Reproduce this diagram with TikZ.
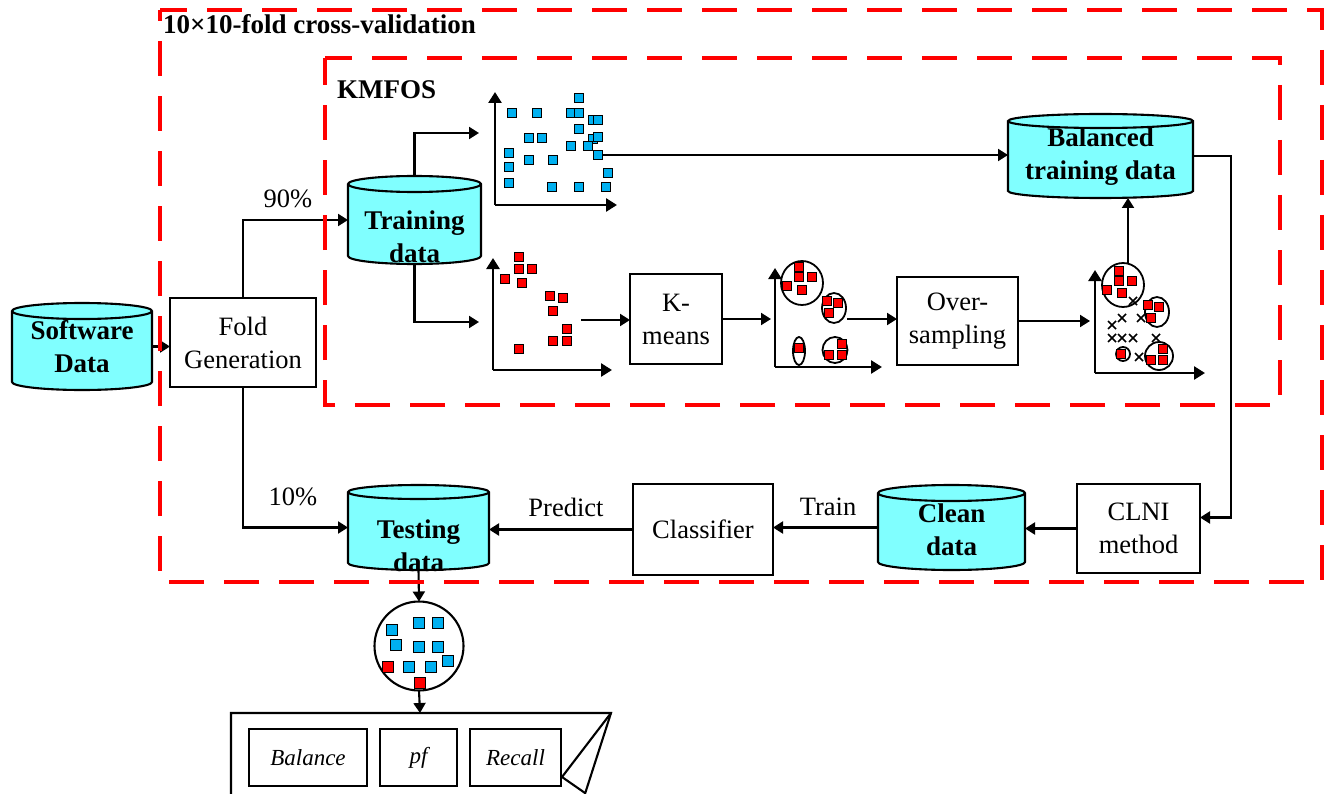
\documentclass[tikz,border=0pt]{standalone}
\usepackage{fontspec}
\setmainfont{Liberation Serif}
\usetikzlibrary{arrows.meta,calc}
\definecolor{cylcyan}{RGB}{128,255,255}
\definecolor{ptblue}{RGB}{0,176,240}
\definecolor{framered}{RGB}{255,0,0}
% #1 name, #2 cx, #3 top, #4 bottom, #5 half width, #6 ry
\newcommand{\dbcyl}[6]{%
  \path[fill=cylcyan, draw, line width=2.1pt] (#2-#5,#3+#6) -- (#2-#5,#4-#6)
     arc[start angle=180,end angle=360,x radius=#5pt,y radius=#6pt] -- (#2+#5,#3+#6)
     arc[start angle=0,end angle=180,x radius=#5pt,y radius=#6pt] -- cycle;
  \draw[line width=2.1pt] (#2-#5,#3+#6) arc[start angle=180,end angle=360,x radius=#5pt,y radius=#6pt];
  \node[inner sep=0pt,outer sep=0pt,minimum width={2*#5pt},minimum height={(#4-#3)*1pt}] (#1) at (#2,{(#3+#4)/2}) {};%
}
\begin{document}
\begin{tikzpicture}[x=1pt,y=-1pt,
  lbl/.style={font=\fontsize{26.5}{33}\selectfont, align=center, inner sep=0pt},
  blbl/.style={font=\bfseries\fontsize{27}{33}\selectfont, align=center, inner sep=0pt},
  box/.style={draw, line width=2.1pt, inner sep=0pt, outer sep=0pt, align=center, fill=white,
              font=\fontsize{26.5}{33}\selectfont},
  ibox/.style={draw, line width=2.1pt, inner sep=0pt, outer sep=0pt, align=center,
              font=\itshape\fontsize{23}{28}\selectfont, minimum height=57pt},
  arr/.style={line width=2.1pt, -{Triangle[length=10pt,width=12pt]}},
  frame/.style={draw=framered, line width=4pt, dash pattern=on 35pt off 20pt},
  axis/.style={line width=2.6pt, -{Triangle[length=11pt,width=13pt]}},
  bsq/.style={fill=ptblue, draw=black, line width=1.5pt},
  rsq/.style={fill=red, draw=black, line width=1.5pt},
  ring/.style={draw, line width=1.8pt},
  xm/.style={line width=1.6pt}
]
\useasboundingbox (0,0) rectangle (1329,794);
\clip (0,0) rectangle (1329,794);

% ---------- cylinders ----------
\dbcyl{sw}{82}{303}{390}{70}{8}
\dbcyl{train}{414.5}{176}{264}{66.5}{8}
\dbcyl{bal}{1100.5}{114}{198}{92.5}{7}
\dbcyl{test}{418.5}{485}{570}{70.5}{7}
\dbcyl{clean}{951.5}{485}{570}{73.5}{8}

\node[blbl] (swt) at (82,347) {Software\\Data};
\node[blbl] (traint) at (414.5,237) {Training\\data};
\node[blbl] (balt) at (1100.5,157) {Balanced\\training data};
\node[blbl] (testt) at (418.5,546) {Testing\\data};
\node[blbl] (cleant) at (951.5,529.5) {Clean\\data};

% ---------- boxes ----------
\node[box, minimum width=146pt, minimum height=89pt] (fold) at (243,342.5) {Fold\\Generation};
\node[box, minimum width=92pt, minimum height=90pt] (kmeans) at (676,319) {K-\\means};
\node[box, minimum width=121pt, minimum height=88pt] (over) at (957.5,321) {Over-\\sampling};
\node[box, minimum width=123pt, minimum height=89pt] (clni) at (1138.5,528.5) {CLNI\\method};
\node[box, minimum width=140pt, minimum height=91pt] (classif) at (703,529.5) {Classifier};

% ---------- plot 1 (blue) ----------
\draw[axis] (495,205) -- (495,92);
\draw[axis] (495,205) -- (617,205);
\foreach \x/\y in {512/113,537/113,571/113,579/113,579/98,593/120,598/120,579/129,529/138,542/138,
                   593/139,598/137,571/146,588/146,598/155,509/153,529/160,553/160,509/167,608/173,
                   509/183,552/187,579/187,606/187}
  \draw[bsq] (\x-4.5,\y-4.5) rectangle (\x+4.5,\y+4.5);
\coordinate (b1) at (603,155);
\coordinate (p1in) at (479,133);

% ---------- plot 2 (red) ----------
\draw[axis] (493,370) -- (493,258);
\draw[axis] (493,370) -- (612,370);
\foreach \x/\y in {519/257,519/269,532/269,505/279,522/283,550/296,563/298,553/311,567/329,553/341,567/341,519/349}
  \draw[rsq] (\x-4.5,\y-4.5) rectangle (\x+4.5,\y+4.5);
\coordinate (p2in) at (479,322);
\coordinate (p2out) at (581,320);

% ---------- plot 3 (clusters) ----------
\draw[axis] (775,367) -- (775,268);
\draw[axis] (775,367) -- (882,367);
\draw[ring] (802,283) ellipse [x radius=21pt, y radius=22pt];
\draw[ring] (834,308) ellipse [x radius=12pt, y radius=15pt];
\draw[ring] (799,351) ellipse [x radius=6pt, y radius=14pt];
\draw[ring] (835,350) ellipse [x radius=12.5pt, y radius=13pt];
\foreach \x/\y in {799/267,799/277,812/277,787/286,802/290,827/301,838/303,829/313,799/348,842/344,829/355,842/355}
  \draw[rsq] (\x-4.5,\y-4.5) rectangle (\x+4.5,\y+4.5);
\coordinate (p3in) at (771,319);
\coordinate (p3out) at (847,319);

% ---------- plot 4 (oversampled) ----------
\draw[axis] (1095,373) -- (1095,270);
\draw[axis] (1095,373) -- (1205,373);
\draw[ring] (1123,285) ellipse [x radius=21pt, y radius=22pt];
\draw[ring] (1157,312) ellipse [x radius=12pt, y radius=15pt];
\draw[ring] (1123,354) circle [radius=7pt];
\draw[ring] (1159,356) ellipse [x radius=14pt, y radius=14pt];
\foreach \x/\y in {1119/271,1119/281,1132/281,1107/290,1122/293,1148/305,1159/307,1151/318,1121/354,1163/349,1151/360,1163/360}
  \draw[rsq] (\x-4.5,\y-4.5) rectangle (\x+4.5,\y+4.5);
\foreach \x/\y in {1133/301,1122/318,1112/325,1141/318,1112/338,1122/338,1133/338,1156/338,1139/357}
  \draw[xm] (\x-4,\y-4) -- (\x+4,\y+4) (\x-4,\y+4) -- (\x+4,\y-4);
\coordinate (p4in) at (1090,321);
\coordinate (p4up) at (1128,263);

% ---------- test circle ----------
\node[circle, draw, line width=2.1pt, minimum size=89pt, inner sep=0pt, outer sep=0pt] (tcirc) at (419,646) {};
\foreach \x/\y in {392/630,419/623,438/623,396/645,419/647,438/647,409/667,431/667,448/661}
  \draw[bsq] (\x-5.5,\y-5.5) rectangle (\x+5.5,\y+5.5);
\foreach \x/\y in {388/667,420/683}
  \draw[rsq] (\x-5.5,\y-5.5) rectangle (\x+5.5,\y+5.5);

% ---------- result document ----------
\draw[line width=2.1pt] (231,800) -- (231,713) -- (611,713) -- (583,800);
\draw[line width=2.1pt, line join=miter] (611,713) -- (562,777) -- (585,793);
\coordinate (doctop) at (420,713);
\node[ibox, minimum width=118pt] (mbal) at (308,757.5) {Balance};
\node[ibox, minimum width=77pt] (mpf) at (418.5,757.5) {pf};
\node[ibox, minimum width=91pt] (mrec) at (515.5,757.5) {Recall};

% ---------- connectors ----------
\draw[arr] (sw.east) -- (sw.east -| fold.west);
\draw[arr] (fold.north) |- (train.west);
\draw[arr] (fold.south) |- (test.west);
\draw[arr] (train.north) |- (p1in);
\draw[arr] (train.south) |- (p2in);
\draw[arr] (b1) -- (b1 -| bal.west);
\draw[arr] (p2out) -- (p2out -| kmeans.west);
\draw[arr] (kmeans.east) -- (p3in);
\draw[arr] (p3out) -- (p3out -| over.west);
\draw[arr] (over.east) -- (p4in);
\draw[arr] (p4up) -- (p4up |- bal.south);
\coordinate (clniin) at ($(clni.east)+(0,-11)$);
\draw[arr] (bal.east) -| ($(clniin)+(31,0)$) -- (clniin);
\draw[arr] (clni.west) -- (clni.west -| clean.east);
\draw[arr] (clean.west) -- (clean.west -| classif.east);
\draw[arr] (classif.west) -- (classif.west -| test.east);
\draw[arr] (test.south) -- (tcirc.north);
\draw[arr] (tcirc.south) -- (doctop);

% ---------- edge labels ----------
\node[lbl] (l90) at (288,199) {90\%};
\node[lbl] (l10) at (293,497) {10\%};
\node[lbl] (lpred) at (566,507) {Predict};
\node[lbl] (ltrain) at (828,507) {Train};

% ---------- frames ----------
\draw[frame, dash phase=8pt] (160,10) -- (1322,10) -- (1322,582) -- (160,582) -- cycle;
\draw[frame, dash phase=8pt] (325,58) -- (1280,58) -- (1280,405) -- (325,405) -- cycle;
\node[blbl, anchor=base west] (title) at (163,34) {10×10-fold cross-validation};
\node[blbl, anchor=base west] (kmfos) at (337,99) {KMFOS};
\end{tikzpicture}
\end{document}
